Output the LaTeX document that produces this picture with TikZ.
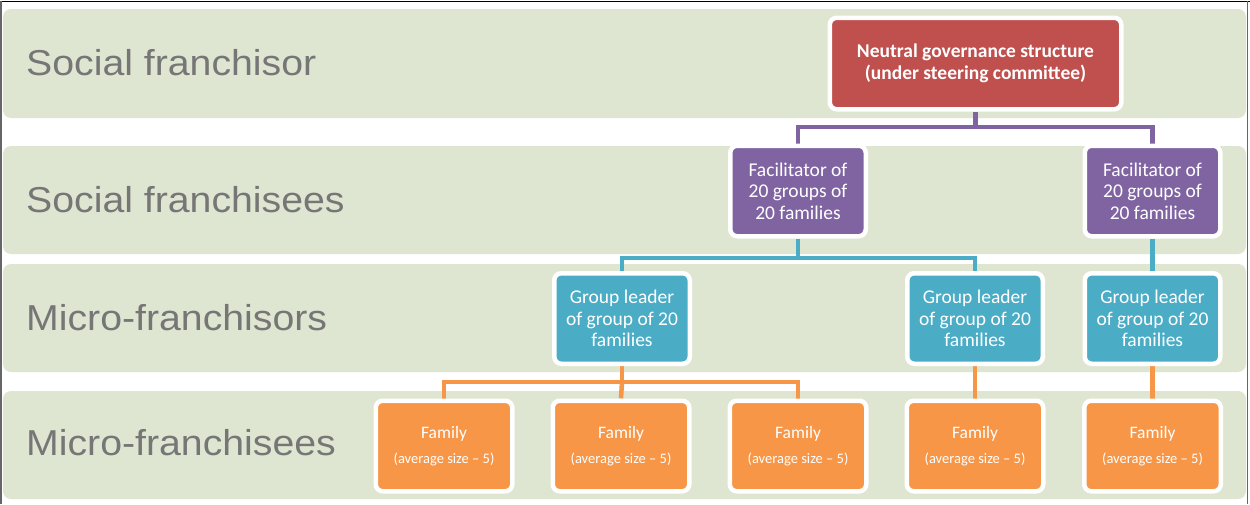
\documentclass[tikz,border=0pt]{standalone}
\usepackage{fontspec}
\setmainfont{Carlito}
\newfontfamily\bandfont[FakeStretch=1.09]{Liberation Sans}
\definecolor{bandgreen}{HTML}{DEE6D1}
\definecolor{labelgray}{HTML}{767676}
\definecolor{govred}{HTML}{C0504D}
\definecolor{facpurple}{HTML}{8064A2}
\definecolor{leadblue}{HTML}{4BACC6}
\definecolor{famorange}{HTML}{F79646}
\pgfdeclarelayer{bands}
\pgfdeclarelayer{links}
\pgfsetlayers{bands,links,main}
\begin{document}
\begin{tikzpicture}[x=1pt,y=-1pt,
  band/.style={fill=bandgreen, rounded corners=8pt},
  bandlabel/.style={anchor=base west, inner sep=0pt, text=labelgray,
    font=\bandfont\fontsize{36}{40}\selectfont},
  box/.style={draw=white, line width=4.5pt, rounded corners=7pt,
    minimum width=135.5pt, minimum height=90.5pt, text=white, align=center,
    inner sep=0pt, font=\fontsize{19.5}{21.7}\selectfont},
  govbox/.style={box, fill=govred, minimum width=291.5pt, minimum height=91.5pt,
    font=\bfseries\fontsize{19.5}{22}\selectfont},
  facbox/.style={box, fill=facpurple},
  leadbox/.style={box, fill=leadblue},
  fambox/.style={box, fill=famorange, minimum width=136.5pt},
  link/.style={line width=4.5pt},
  plink/.style={link, draw=facpurple},
  blink/.style={link, draw=leadblue},
  olink/.style={link, draw=famorange}
]
\useasboundingbox (0,0) rectangle (1250,504);

% page and tier bands
\begin{pgfonlayer}{bands}
  \fill[white] (0,0) rectangle (1250,504);
  \fill[band] (3,9)   rectangle (1246,118);
  \fill[band] (3,146) rectangle (1246,254);
  \fill[band] (3,264) rectangle (1246,372);
  \fill[band] (3,391) rectangle (1246,499);
\end{pgfonlayer}

% tier labels
\node[bandlabel] (l1) at (26,75)  {Social franchisor};
\node[bandlabel] (l2) at (26,212) {Social franchisees};
\node[bandlabel] (l3) at (26,330) {Micro-franchisors};
\node[bandlabel] (l4) at (26,455) {Micro-franchisees};

% boxes
\node[govbox] (gov) at (975.5,63.5) {Neutral governance structure\\(under steering committee)};

\node[facbox] (fac1) at (798,191)  {Facilitator of\\20 groups of\\20 families};
\node[facbox] (fac2) at (1152.5,191) {Facilitator of\\20 groups of\\20 families};

\node[leadbox] (gl1) at (622,318.5)  {Group leader\\of group of 20\\families};
\node[leadbox] (gl2) at (975,318.5)  {Group leader\\of group of 20\\families};
\node[leadbox] (gl3) at (1152.5,318.5) {Group leader\\of group of 20\\families};

\foreach \i/\x in {1/444,2/621,3/798,4/975,5/1152.5}{
  \node[fambox] (fam\i) at (\x,446)
    {{\fontsize{17.5}{20}\selectfont Family}\\[3pt]{\fontsize{14.5}{17}\selectfont (average size -- 5)}};
}

% connectors
\coordinate (pj) at (975.5,127);
\coordinate (bj) at (798,258);
\coordinate (oj) at (622,382);
\begin{pgfonlayer}{links}
  \draw[plink] (gov.south) -- (pj);
  \draw[plink] (pj) -| (fac1.north);
  \draw[plink] (pj) -| (fac2.north);
  \draw[blink] (fac1.south) -- (bj);
  \draw[blink] (bj) -| (gl1.north);
  \draw[blink] (bj) -| (gl2.north);
  \draw[blink] (fac2.south) -- (gl3.north);
  \draw[olink] (gl1.south) -- (oj);
  \draw[olink] (oj) -| (fam1.north);
  \draw[olink] (oj) -| (fam3.north);
  \draw[olink] (oj) -- (fam2.north);
  \draw[olink] (gl2.south) -- (fam4.north);
  \draw[olink] (gl3.south) -- (fam5.north);
\end{pgfonlayer}

% frame
\draw[black, line width=1pt] (0,1.5) -- (1250,1.5);
\draw[gray!80!black, line width=1.2pt] (1,1) -- (1,504);
\draw[gray!80!black, line width=1.2pt] (1247.8,1) -- (1247.8,504);
\end{tikzpicture}
\end{document}
